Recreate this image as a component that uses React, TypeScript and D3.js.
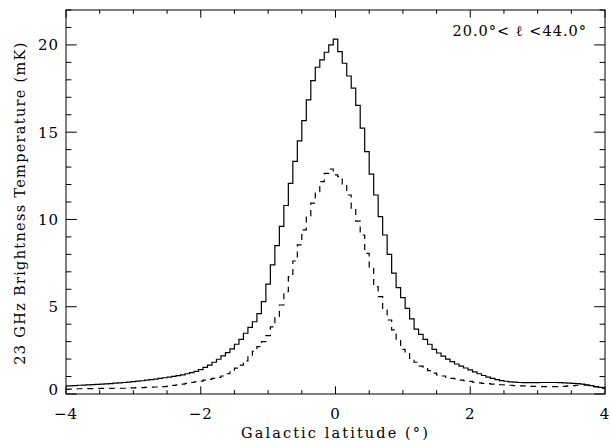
import * as d3 from 'd3'

const W = 610
const H = 445
const MARGIN = { top: 10, right: 5, bottom: 51, left: 66 }

// 4 arcmin latitude bins from -4 to +4 deg (121 bins)
const BIN = 1 / 15
const LAT_MIN = -4

// total 23 GHz brightness temperature (mK), solid histogram
const totalT = [
  0.46, 0.47, 0.48, 0.5, 0.51, 0.52, 0.54, 0.55, 0.57, 0.58,
  0.6, 0.62, 0.64, 0.66, 0.68, 0.71, 0.74, 0.76, 0.79, 0.82,
  0.85, 0.89, 0.93, 0.97, 1.01, 1.05, 1.1, 1.16, 1.22, 1.3,
  1.4, 1.53, 1.66, 1.82, 1.99, 2.18, 2.37, 2.58, 2.85, 3.13,
  3.48, 3.82, 4.14, 4.6, 5.29, 6.3, 7.4, 8.5, 9.6, 10.8,
  12.07, 13.33, 14.5, 15.66, 16.85, 17.95, 18.72, 19.14, 19.58, 20.0,
  20.33,
  19.62, 18.95, 18.22, 17.52, 16.54, 15.23, 13.89, 12.6, 11.4, 10.16,
  9.11, 8.0, 6.92, 6.09, 5.52, 4.91, 4.3, 3.72, 3.42, 3.13,
  2.85, 2.56, 2.35, 2.17, 2.0, 1.85, 1.72, 1.6, 1.49, 1.38,
  1.27, 1.16, 1.06, 0.97, 0.89, 0.82, 0.77, 0.73, 0.7, 0.68,
  0.66, 0.65, 0.65, 0.65, 0.65, 0.66, 0.66, 0.66, 0.66, 0.65,
  0.64, 0.62, 0.61, 0.6, 0.57, 0.53, 0.48, 0.43, 0.38, 0.34,
]

// second component (mK), dashed histogram
const dashedT = [
  0.27, 0.28, 0.29, 0.3, 0.3, 0.31, 0.31, 0.31, 0.32, 0.32,
  0.32, 0.33, 0.33, 0.33, 0.34, 0.35, 0.36, 0.37, 0.38, 0.39,
  0.4, 0.41, 0.42, 0.45, 0.49, 0.53, 0.57, 0.61, 0.66, 0.7,
  0.74, 0.79, 0.84, 0.89, 0.95, 1.03, 1.16, 1.32, 1.48, 1.66,
  1.9, 2.18, 2.45, 2.71, 3.0, 3.35, 3.85, 4.45, 5.1, 5.86,
  6.72, 7.62, 8.54, 9.4, 10.2, 10.93, 11.6, 12.17, 12.64, 12.89,
  12.55,
  12.45, 12.02, 11.4, 10.64, 9.91, 9.11, 8.06, 7.2, 6.15, 5.58,
  4.85, 4.24, 3.67, 3.13, 2.56, 2.3, 2.04, 1.82, 1.6, 1.45,
  1.34, 1.2, 1.09, 1.03, 0.96, 0.9, 0.86, 0.8, 0.76, 0.72,
  0.68, 0.64, 0.61, 0.59, 0.57, 0.55, 0.53, 0.52, 0.5, 0.48,
  0.47, 0.46, 0.45, 0.44, 0.43, 0.42, 0.42, 0.42, 0.42, 0.43,
  0.44, 0.46, 0.48, 0.5, 0.52, 0.5, 0.46, 0.41, 0.37, 0.33,
]

const xMajor = [-4, -2, 0, 2, 4]
const yMajor = [0, 5, 10, 15, 20]

const FONT = '"DejaVu Serif", serif'

export default function App() {
  const iW = W - MARGIN.left - MARGIN.right
  const iH = H - MARGIN.top - MARGIN.bottom

  const x = d3.scaleLinear().domain([-4, 4]).range([MARGIN.left, MARGIN.left + iW])
  const y = d3.scaleLinear().domain([0, 22]).range([MARGIN.top + iH, MARGIN.top])

  const xMinor = x.ticks(16)
  const yMinor = y.ticks(22)
  const xTickMaj = 0.02 * iH
  const yTickMaj = 0.02 * iW

  const line = d3
    .line<number>()
    .x((_, i) => x(LAT_MIN + i * BIN))
    .y((v) => y(v))
    .curve(d3.curveStep)

  const fmt = d3.format('d')
  const top = MARGIN.top
  const bottom = MARGIN.top + iH
  const left = MARGIN.left
  const right = MARGIN.left + iW

  return (
    <svg
      width={W}
      height={H}
      style={{ position: 'absolute', left: 0, top: 0, background: '#fff' }}
      fontFamily={FONT}
    >
      <rect x={0} y={0} width={W} height={H} fill="#fff" />

      {/* data */}
      <path d={line(totalT) ?? ''} fill="none" stroke="#000" strokeWidth={1.2} />
      <path
        d={line(dashedT) ?? ''}
        fill="none"
        stroke="#000"
        strokeWidth={1.2}
        strokeDasharray="6,5"
      />

      {/* ticks on all four sides */}
      <g stroke="#000" strokeWidth={1}>
        {xMinor.map((t) => {
          const len = xMajor.includes(t) ? xTickMaj : xTickMaj / 2
          return (
            <g key={'x' + t}>
              <line x1={x(t)} x2={x(t)} y1={bottom} y2={bottom - len} />
              <line x1={x(t)} x2={x(t)} y1={top} y2={top + len} />
            </g>
          )
        })}
        {yMinor.map((t) => {
          const len = yMajor.includes(t) ? yTickMaj : yTickMaj / 2
          return (
            <g key={'y' + t}>
              <line x1={left} x2={left + len} y1={y(t)} y2={y(t)} />
              <line x1={right} x2={right - len} y1={y(t)} y2={y(t)} />
            </g>
          )
        })}
      </g>

      <rect x={left} y={top} width={iW} height={iH} fill="none" stroke="#000" strokeWidth={1} />

      {/* tick labels */}
      <g fontSize={15} letterSpacing={1} fill="#000">
        {xMajor.map((t) => (
          <text key={'xl' + t} x={x(t)} y={bottom + 25} textAnchor="middle">
            {fmt(t)}
          </text>
        ))}
        {yMajor.map((t) => (
          <text
            key={'yl' + t}
            x={left - 7}
            y={y(t) + (t === 0 ? 1 : 5.5)}
            textAnchor="end"
          >
            {fmt(t)}
          </text>
        ))}
      </g>

      {/* axis titles */}
      <text
        x={(left + right) / 2}
        y={H - 7}
        textAnchor="middle"
        fontSize={14.5}
        letterSpacing={2.1}
      >
        Galactic latitude (°)
      </text>
      <text
        transform={`translate(25,${(top + bottom) / 2 + 1}) rotate(-90)`}
        textAnchor="middle"
        fontSize={14.5}
        letterSpacing={1.3}
      >
        23 GHz Brightness Temperature (mK)
      </text>

      <text x={right - 18} y={36} textAnchor="end" fontSize={14.5} letterSpacing={1}>
        20.0°&lt; ℓ &lt;44.0°
      </text>
    </svg>
  )
}
